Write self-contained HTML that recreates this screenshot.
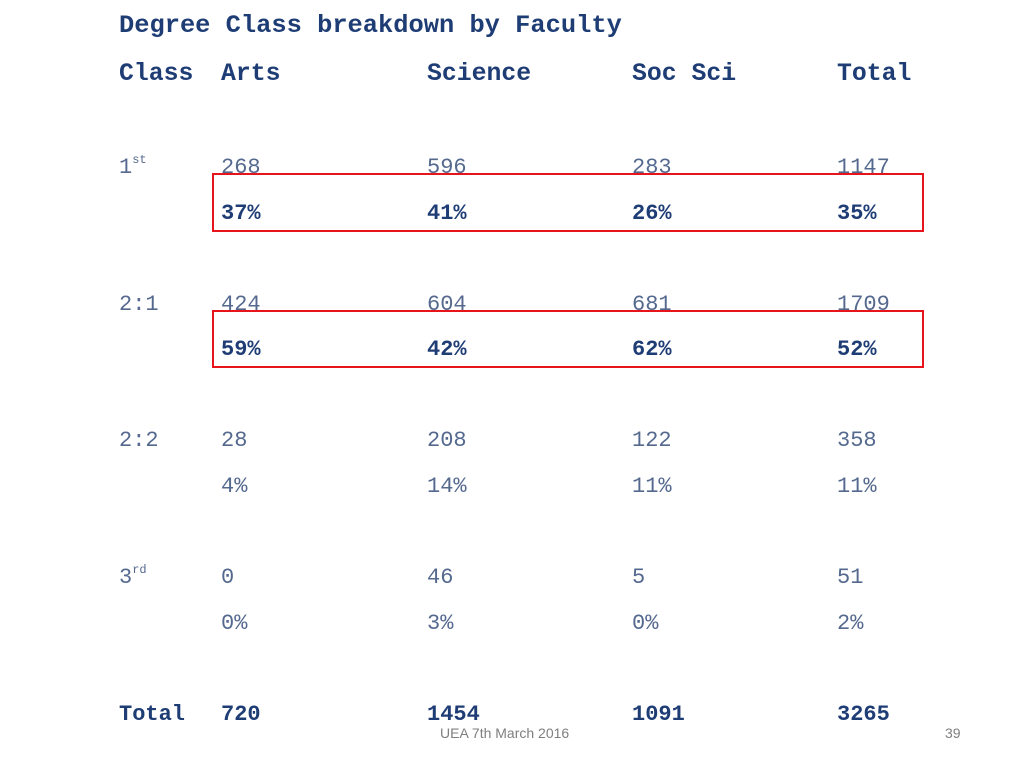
<!DOCTYPE html>
<html><head><meta charset="utf-8"><style>
body{margin:0;width:1024px;height:768px;background:#fff;position:relative;overflow:hidden;font-family:"Liberation Mono",monospace}
.t{position:absolute;line-height:1;white-space:nowrap}
.h{font-weight:bold;color:#1f3d75;font-size:24.8px}
.v{color:#55698f;font-size:22px}
.b{font-weight:bold;color:#1f3d75;font-size:22px}
.box{position:absolute;border:2px solid #e8141b;box-sizing:border-box}
sup{font-size:12px;vertical-align:top;position:relative;top:-3px}
.f{position:absolute;font-family:"Liberation Sans",sans-serif;font-size:14px;color:#7f7f7f;line-height:1}
</style></head><body>
<div class="t h" style="left:119px;top:13px;font-size:25.4px">Degree Class breakdown by Faculty</div>
<div class="t h" style="left:119px;top:62px">Class</div>
<div class="t h" style="left:221px;top:62px">Arts</div>
<div class="t h" style="left:427px;top:62px">Science</div>
<div class="t h" style="left:632px;top:62px">Soc Sci</div>
<div class="t h" style="left:837px;top:62px">Total</div>

<div class="box" style="left:212px;top:173px;width:712px;height:59px"></div>
<div class="box" style="left:212px;top:310px;width:712px;height:58px"></div>

<div id="rows"></div>
<div class="f" style="left:440px;top:726px">UEA 7th March 2016</div>
<div class="f" style="left:945px;top:726px">39</div>
<script>
const rowLabels=['1<sup>st</sup>','2:1','2:2','3<sup>rd</sup>'];
const counts=[[268,596,283,1147],[424,604,681,1709],[28,208,122,358],[0,46,5,51]];
const pcts=[['37%','41%','26%','35%'],['59%','42%','62%','52%'],['4%','14%','11%','11%'],['0%','3%','0%','2%']];
const totals=[720,1454,1091,3265];
const cols=[221,427,632,837];
const root=document.getElementById('rows');
function add(cls,html,x,cy,name){const d=document.createElement('div');d.className='t '+cls;d.innerHTML=html;d.style.left=x+'px';d.style.top=(cy-10)+'px';


root.appendChild(d);}
rowLabels.forEach((l,i)=>{const cy=167+i*136.7;
add('v',l,119,cy,'row-label-'+i);
counts[i].forEach((c,j)=>add('v',String(c),cols[j],cy,'count-'+i+'-'+j));
pcts[i].forEach((p,j)=>add(i<2?'b':'v',p,cols[j],cy+45.5,'pct-'+i+'-'+j));});
add('b','Total',119,714,'row-label-total');
totals.forEach((t,j)=>add('b',String(t),cols[j],714,'total-'+j));
</script>
</body></html>
